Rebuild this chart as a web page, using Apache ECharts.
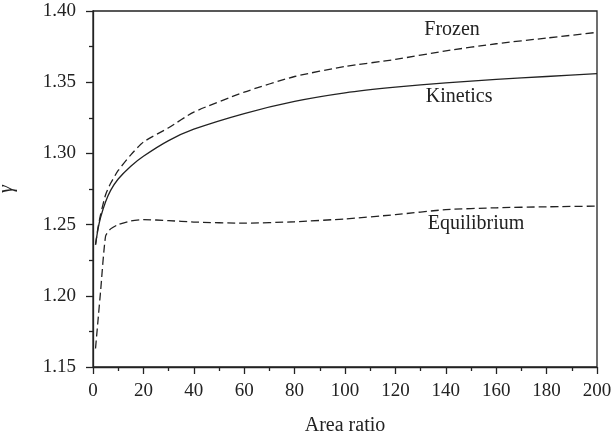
<!DOCTYPE html>
<html>
<head>
<meta charset="utf-8">
<script src="https://cdn.jsdelivr.net/npm/echarts@6/dist/echarts.min.js"></script>
<style>
  html, body { margin: 0; padding: 0; background: #fff; }
  #chart { width: 615px; height: 436px; }
</style>
</head>
<body>
<div id="chart"></div>
<script>
// area ratio values shared by the three curves
const areaRatio = [1, 2, 3, 5, 7, 10, 15, 20, 30, 40, 60, 80, 100, 120, 140, 160, 180, 200];

const frozen      = [1.236, 1.248, 1.257, 1.271, 1.279, 1.288, 1.299, 1.308, 1.318, 1.329, 1.343, 1.354, 1.361, 1.366, 1.372, 1.377, 1.381, 1.385];
const kinetics    = [1.236, 1.247, 1.255, 1.266, 1.274, 1.282, 1.291, 1.298, 1.309, 1.317, 1.328, 1.3365, 1.3425, 1.3465, 1.3495, 1.352, 1.354, 1.356];
const equilibrium = [1.163, 1.183, 1.203, 1.242, 1.247, 1.250, 1.2525, 1.2535, 1.2528, 1.2518, 1.251, 1.252, 1.254, 1.257, 1.2605, 1.2618, 1.2625, 1.263];

const seriesNames = ['Frozen', 'Kinetics', 'Equilibrium'];
// where the curve names sit, in data units
const labelPos = [[142.5, 1.3867], [145.3, 1.3396], [152, 1.2504]];

const xTicks = [0, 20, 40, 60, 80, 100, 120, 140, 160, 180, 200];
const yTicks = [1.15, 1.20, 1.25, 1.30, 1.35, 1.40];

const font = '"Liberation Serif", "Times New Roman", serif';
const ink = '#222';

const pairs = (ys) => areaRatio.map((x, i) => [x, ys[i]]);

const chart = echarts.init(document.getElementById('chart'));

const makeSeries = (name, ys, dashed, pos) => ({
  name,
  type: 'line',
  data: pairs(ys),
  smooth: 0.2,
  symbol: 'none',
  lineStyle: { color: ink, width: 1.3, type: dashed ? [8, 4] : 'solid' },
  markPoint: {
    symbol: 'circle',
    symbolSize: 0,
    data: [{ coord: pos, value: name }],
    label: {
      show: true,
      formatter: name,
      color: ink,
      fontFamily: font,
      fontSize: 20,
      position: 'inside'
    }
  },
  z: 3
});

chart.setOption({
  animation: false,
  backgroundColor: '#fff',
  grid: {
    left: 93,
    right: 18,
    top: 11,
    bottom: 69,
    outerBoundsMode: 'none',
    containLabel: false,
    show: true,
    borderColor: ink,
    borderWidth: 1.3
  },
  xAxis: {
    type: 'value',
    min: xTicks[0],
    max: xTicks[xTicks.length - 1],
    interval: 20,
    name: 'Area ratio',
    nameLocation: 'middle',
    nameGap: 49,
    nameTextStyle: { color: ink, fontFamily: font, fontSize: 20 },
    axisLine: { show: true, onZero: false, lineStyle: { color: ink, width: 1.3 } },
    axisTick: { show: true, inside: false, length: 7, lineStyle: { color: ink, width: 1.3 } },
    minorTick: { show: true, splitNumber: 2, length: 4, lineStyle: { color: ink, width: 1.3 } },
    splitLine: { show: false },
    axisLabel: { color: ink, fontFamily: font, fontSize: 19, margin: 15 }
  },
  yAxis: {
    type: 'value',
    min: yTicks[0],
    max: yTicks[yTicks.length - 1],
    interval: 0.05,
    name: 'γ',
    nameLocation: 'middle',
    nameGap: 76,
    nameRotate: 90,
    nameTextStyle: { color: ink, fontFamily: font, fontSize: 20, fontStyle: 'italic' },
    axisLine: { show: true, lineStyle: { color: ink, width: 1.3 } },
    axisTick: { show: true, inside: false, length: 7, lineStyle: { color: ink, width: 1.3 } },
    minorTick: { show: true, splitNumber: 2, length: 4, lineStyle: { color: ink, width: 1.3 } },
    splitLine: { show: false },
    axisLabel: {
      color: ink, fontFamily: font, fontSize: 19, margin: 17,
      formatter: (v) => v.toFixed(2)
    }
  },
  series: [
    makeSeries(seriesNames[0], frozen, true, labelPos[0]),
    makeSeries(seriesNames[1], kinetics, false, labelPos[1]),
    makeSeries(seriesNames[2], equilibrium, true, labelPos[2])
  ]
});
</script>
</body>
</html>
